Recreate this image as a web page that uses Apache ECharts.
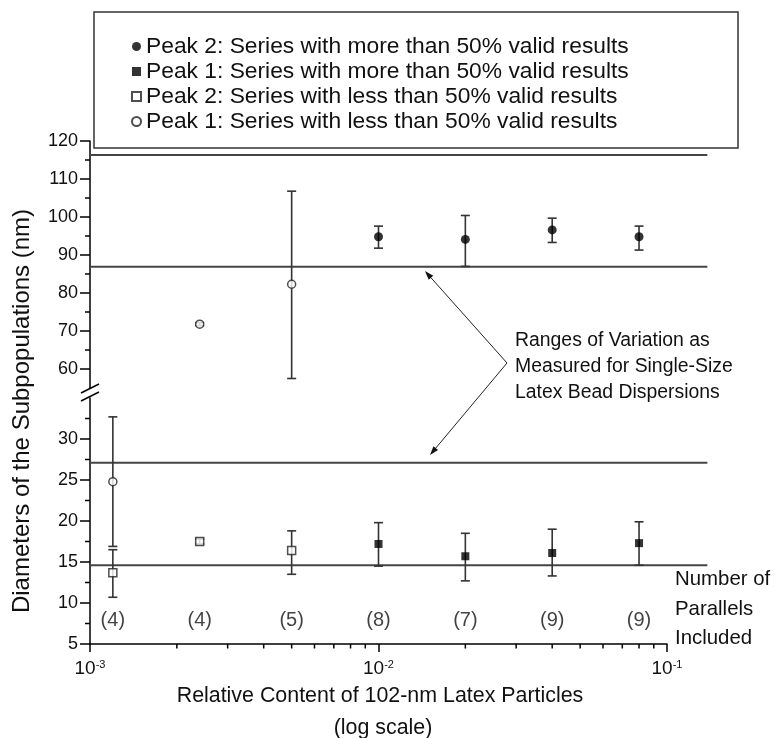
<!DOCTYPE html>
<html>
<head>
<meta charset="utf-8">
<script src="https://cdn.jsdelivr.net/npm/echarts@6/dist/echarts.min.js"></script>
<style>
html,body{margin:0;padding:0;background:#fff;}
#chart{width:777px;height:738px;}
</style>
</head>
<body>
<div id="chart"></div>
<script>
// ---------------- data ----------------
const xMajorTicks = [0.001, 0.01, 0.1];
const xMinorTicks = [0.002,0.003,0.004,0.005,0.006,0.007,0.008,0.009,
                     0.02,0.03,0.04,0.05,0.06,0.07,0.08,0.09];
const upperTicks = [60, 70, 80, 90, 100, 110, 120];
const upperMinorTicks = [65, 75, 85, 95, 105, 115];
const lowerTicks = [5, 10, 15, 20, 25, 30];
const lowerMinorTicks = [7.5, 12.5, 17.5, 22.5, 27.5, 32.5];

const contents = [0.0012, 0.0024, 0.005, 0.01, 0.02, 0.04, 0.08];
const parallels = [4, 4, 5, 8, 7, 9, 9];

// Peak 2, > 50 % valid (filled circles)
const p2MoreX    = [0.01, 0.02, 0.04, 0.08];
const p2MoreY    = [94.8, 94.1, 96.6, 94.8];
const p2MoreLow  = [91.8, 87.0, 93.3, 91.3];
const p2MoreHigh = [97.6, 100.4, 99.7, 97.6];

// Peak 1, > 50 % valid (filled squares)
const p1MoreX    = [0.01, 0.02, 0.04, 0.08];
const p1MoreY    = [17.2, 15.7, 16.1, 17.3];
const p1MoreLow  = [14.5, 12.7, 13.3, 14.6];
const p1MoreHigh = [19.8, 18.5, 19.0, 19.9];

// Peak 2, < 50 % valid (open squares)
const p2LessX    = [0.0012, 0.0024, 0.005];
const p2LessY    = [13.7, 17.5, 16.4];
const p2LessLow  = [10.7, 17.2, 13.5];
const p2LessHigh = [16.5, 17.8, 18.8];

// Peak 1, < 50 % valid (open circles) - upper segment
const p1LessUpX    = [0.0024, 0.005];
const p1LessUpY    = [71.8, 82.3];
const p1LessUpLow  = [71.4, 57.5];
const p1LessUpHigh = [72.2, 106.8];
// Peak 1, < 50 % valid (open circles) - lower segment
const p1LessLoX    = [0.0012];
const p1LessLoY    = [24.8];
const p1LessLoLow  = [16.9];
const p1LessLoHigh = [32.7];

// ranges of variation for single-size latex beads
const rangeUpper = [86.9, 116.3];
const rangeLower = [14.6, 27.1];

const names = [
  'Peak 2: Series with more than 50% valid results',
  'Peak 1: Series with more than 50% valid results',
  'Peak 2: Series with less than 50% valid results',
  'Peak 1: Series with less than 50% valid results'
];

// ---------------- layout / style constants ----------------
const X_MIN = 0.001, X_MAX = 0.1;
const LINE_OVERSHOOT = 0.07;  // range lines run this fraction of the axis length past its end
const COUNT_Y = 7.9;          // vertical position of the "(n)" labels
const FONT = '"Liberation Sans", Arial, Helvetica, sans-serif';
const TXT = '#111';

function zip(xs, ys) { return xs.map((x, i) => [x, ys[i]]); }
function errData(xs, lo, hi) { return xs.map((x, i) => [x, lo[i], hi[i]]); }

function errorSeries(xi, yi, data) {
  return {
    type: 'custom', xAxisIndex: xi, yAxisIndex: yi, silent: true, z: 2,
    data: data,
    encode: { x: 0, y: [1, 2] },
    renderItem: function (params, api) {
      const lo = api.coord([api.value(0), api.value(1)]);
      const hi = api.coord([api.value(0), api.value(2)]);
      const w = 4.5;
      const st = { stroke: '#333', lineWidth: 1.6 };
      return {
        type: 'group',
        children: [
          { type: 'line', shape: { x1: lo[0], y1: lo[1], x2: hi[0], y2: hi[1] }, style: st },
          { type: 'line', shape: { x1: lo[0] - w, y1: lo[1], x2: lo[0] + w, y2: lo[1] }, style: st },
          { type: 'line', shape: { x1: hi[0] - w, y1: hi[1], x2: hi[0] + w, y2: hi[1] }, style: st }
        ]
      };
    }
  };
}

function tickSeries(xi, yi, data, dir) {
  return {
    type: 'custom', xAxisIndex: xi, yAxisIndex: yi, silent: true, z: 5,
    data: data,
    renderItem: function (params, api) {
      const p = api.coord([api.value(0), api.value(1)]);
      const len = dir === 'y' ? 5 : 4.5;
      const shape = dir === 'y'
        ? { x1: p[0] - len, y1: p[1], x2: p[0], y2: p[1] }
        : { x1: p[0], y1: p[1], x2: p[0], y2: p[1] + len };
      return { type: 'line', shape: shape, style: { stroke: '#000', lineWidth: 1.5 } };
    }
  };
}

function rangeSeries(xi, yi, values) {
  return {
    type: 'custom', xAxisIndex: xi, yAxisIndex: yi, silent: true, z: 1,
    data: values.map(v => [X_MIN, v]),
    renderItem: function (params, api) {
      const p1 = api.coord([X_MIN, api.value(1)]);
      const p2 = api.coord([X_MAX, api.value(1)]);
      const x2 = p2[0] + (p2[0] - p1[0]) * LINE_OVERSHOOT;
      return { type: 'line', shape: { x1: p1[0], y1: p1[1], x2: x2, y2: p2[1] },
               style: { stroke: '#444', lineWidth: 2 } };
    }
  };
}

const chart = echarts.init(document.getElementById('chart'), null, { renderer: 'canvas' });

const baseX = {
  type: 'log', logBase: 10, min: X_MIN, max: X_MAX,
  splitLine: { show: false }
};

const option = {
  animation: false,
  textStyle: { fontFamily: FONT, color: TXT },
  grid: [
    { left: 90, top: 141, width: 577, height: 247 },
    { left: 90, top: 398, width: 577, height: 246 }
  ],
  legend: {
    orient: 'vertical', left: 131, top: 35, padding: 0,
    itemWidth: 9, itemHeight: 9, itemGap: 2,
    selectedMode: false,
    textStyle: { fontSize: 22.8, lineHeight: 21, color: TXT, fontFamily: FONT },
    data: names
  },
  xAxis: [
    Object.assign({}, baseX, { gridIndex: 0, show: false }),
    Object.assign({}, baseX, {
      gridIndex: 1,
      axisLine: { show: true, lineStyle: { color: '#000', width: 1.5 } },
      axisTick: { show: true, length: 8, lineStyle: { color: '#000', width: 1.5 } },
      axisLabel: {
        margin: 15,
        formatter: function (v) {
          return '{b|10}{s|' + Math.round(Math.log10(v)) + '}';
        },
        rich: {
          b: { fontSize: 19, lineHeight: 20, color: TXT, fontFamily: FONT },
          s: { fontSize: 11, lineHeight: 12, verticalAlign: 'top', color: TXT, fontFamily: FONT }
        }
      }
    })
  ],
  yAxis: [
    {
      type: 'value', gridIndex: 0, min: 55, max: 120,
      splitLine: { show: false },
      axisLine: { show: true, lineStyle: { color: '#000', width: 1.5 } },
      axisTick: { show: true, length: 10, customValues: upperTicks, lineStyle: { color: '#000', width: 1.5 } },
      axisLabel: { customValues: upperTicks, margin: 12, fontSize: 18, color: TXT, fontFamily: FONT }
    },
    {
      type: 'value', gridIndex: 1, min: 5, max: 35,
      splitLine: { show: false },
      axisLine: { show: true, lineStyle: { color: '#000', width: 1.5 } },
      axisTick: { show: true, length: 10, customValues: lowerTicks, lineStyle: { color: '#000', width: 1.5 } },
      axisLabel: { customValues: lowerTicks, margin: 12, fontSize: 18, color: TXT, fontFamily: FONT }
    }
  ],
  series: [
    rangeSeries(0, 0, rangeUpper),
    rangeSeries(1, 1, rangeLower),

    tickSeries(0, 0, upperMinorTicks.map(v => [X_MIN, v]), 'y'),
    tickSeries(1, 1, lowerMinorTicks.map(v => [X_MIN, v]), 'y'),
    tickSeries(1, 1, xMinorTicks.map(v => [v, 5]), 'x'),

    errorSeries(0, 0, errData(p2MoreX, p2MoreLow, p2MoreHigh)),
    errorSeries(1, 1, errData(p1MoreX, p1MoreLow, p1MoreHigh)),
    errorSeries(1, 1, errData(p2LessX, p2LessLow, p2LessHigh)),
    errorSeries(0, 0, errData(p1LessUpX, p1LessUpLow, p1LessUpHigh)),
    errorSeries(1, 1, errData(p1LessLoX, p1LessLoLow, p1LessLoHigh)),

    { name: names[0], type: 'scatter', xAxisIndex: 0, yAxisIndex: 0, z: 3,
      symbol: 'circle', symbolSize: 9, itemStyle: { color: '#000' },
      data: zip(p2MoreX, p2MoreY) },
    { name: names[1], type: 'scatter', xAxisIndex: 1, yAxisIndex: 1, z: 3,
      symbol: 'rect', symbolSize: 8, itemStyle: { color: '#000' },
      data: zip(p1MoreX, p1MoreY) },
    { name: names[2], type: 'scatter', xAxisIndex: 1, yAxisIndex: 1, z: 3,
      symbol: 'rect', symbolSize: 8,
      itemStyle: { color: '#fff', borderColor: '#222', borderWidth: 1.5 },
      data: zip(p2LessX, p2LessY) },
    { name: names[3], type: 'scatter', xAxisIndex: 0, yAxisIndex: 0, z: 3,
      symbol: 'circle', symbolSize: 8,
      itemStyle: { color: '#fff', borderColor: '#222', borderWidth: 1.5 },
      data: zip(p1LessUpX, p1LessUpY) },
    { name: names[3], type: 'scatter', xAxisIndex: 1, yAxisIndex: 1, z: 3,
      symbol: 'circle', symbolSize: 8,
      itemStyle: { color: '#fff', borderColor: '#222', borderWidth: 1.5 },
      data: zip(p1LessLoX, p1LessLoY) },

    { type: 'scatter', xAxisIndex: 1, yAxisIndex: 1, silent: true, symbolSize: 0,
      data: contents.map((x, i) => [x, COUNT_Y, parallels[i]]),
      label: { show: true, position: 'inside', fontSize: 20, color: TXT, fontFamily: FONT,
               formatter: p => '(' + p.value[2] + ')' } }
  ]
};

// arrows (annotation) helpers
function arrow(x1, y1, x2, y2) {
  const dx = x2 - x1, dy = y2 - y1, L = Math.hypot(dx, dy);
  const ux = dx / L, uy = dy / L, hl = 9, hw = 3;
  const bx = x2 - ux * hl, by = y2 - uy * hl;
  return [
    { type: 'line', shape: { x1: x1, y1: y1, x2: bx, y2: by }, style: { stroke: '#222', lineWidth: 1 } },
    { type: 'polygon', shape: { points: [[x2, y2], [bx - uy * hw, by + ux * hw], [bx + uy * hw, by - ux * hw]] },
      style: { fill: '#111' } }
  ];
}

option.graphic = [
  { type: 'rect', shape: { x: 94, y: 12, width: 644, height: 136 },
    style: { fill: 'none', stroke: '#333', lineWidth: 1.5 }, z: 0 },
  // axis break marks
  { type: 'line', shape: { x1: 81, y1: 393, x2: 99, y2: 384 }, style: { stroke: '#000', lineWidth: 1.5 } },
  { type: 'line', shape: { x1: 81, y1: 401, x2: 99, y2: 392 }, style: { stroke: '#000', lineWidth: 1.5 } },
  // y-axis title
  { type: 'text', x: 22, y: 411, rotation: Math.PI / 2,
    style: { text: 'Diameters of the Subpopulations (nm)', fontSize: 24, fontFamily: FONT, fill: TXT,
             textAlign: 'center', textVerticalAlign: 'middle' } },
  // x-axis title
  { type: 'text', x: 380, y: 696,
    style: { text: 'Relative Content of 102-nm Latex Particles', fontSize: 21.4, fontFamily: FONT, fill: TXT,
             textAlign: 'center', textVerticalAlign: 'middle' } },
  { type: 'text', x: 383, y: 728,
    style: { text: '(log scale)', fontSize: 21.4, fontFamily: FONT, fill: TXT,
             textAlign: 'center', textVerticalAlign: 'middle' } },
  // number of parallels
  { type: 'text', x: 675, y: 579, style: { text: 'Number of', fontSize: 20.4, fontFamily: FONT, fill: TXT, textVerticalAlign: 'middle' } },
  { type: 'text', x: 675, y: 609, style: { text: 'Parallels', fontSize: 20.4, fontFamily: FONT, fill: TXT, textVerticalAlign: 'middle' } },
  { type: 'text', x: 675, y: 638, style: { text: 'Included', fontSize: 20.4, fontFamily: FONT, fill: TXT, textVerticalAlign: 'middle' } },
  // annotation
  { type: 'text', x: 515, y: 341, style: { text: 'Ranges of Variation as', fontSize: 19.4, fontFamily: FONT, fill: TXT, textVerticalAlign: 'middle' } },
  { type: 'text', x: 515, y: 367, style: { text: 'Measured for Single-Size', fontSize: 19.4, fontFamily: FONT, fill: TXT, textVerticalAlign: 'middle' } },
  { type: 'text', x: 515, y: 393, style: { text: 'Latex Bead Dispersions', fontSize: 19.4, fontFamily: FONT, fill: TXT, textVerticalAlign: 'middle' } }
].concat(arrow(507, 363, 425, 271), arrow(507, 363, 430, 455));

chart.setOption(option);
</script>
</body>
</html>
